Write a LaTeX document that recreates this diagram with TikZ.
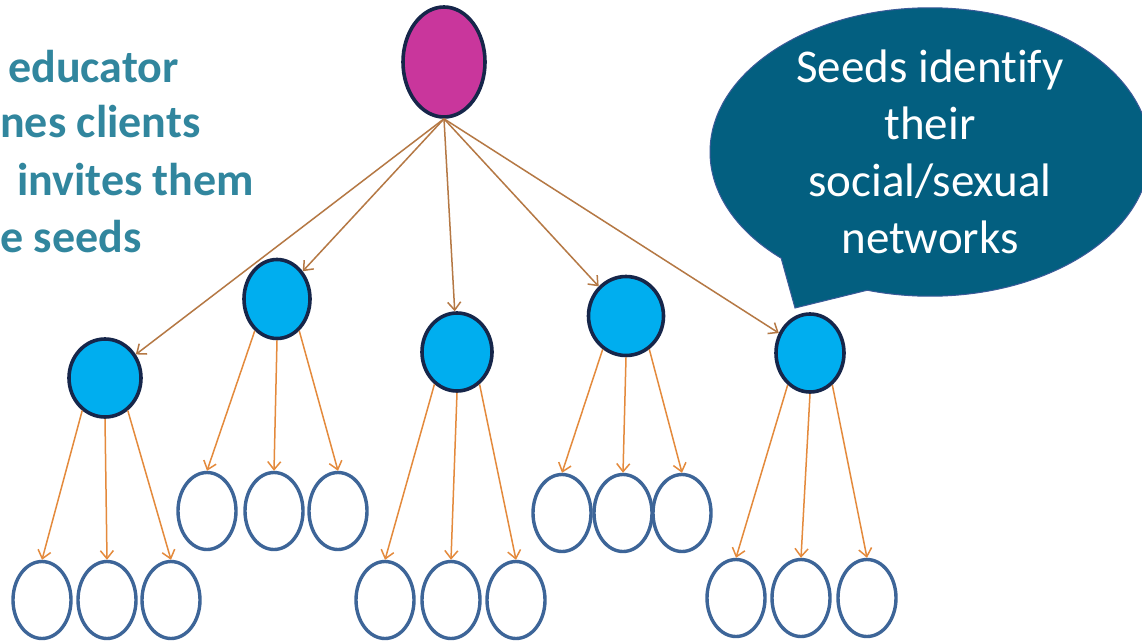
\documentclass[tikz,border=0pt]{standalone}
\usepackage{fontspec}
\setmainfont[Ligatures=NoCommon]{Carlito}
\usetikzlibrary{shapes.geometric,shapes.callouts,arrows.meta}
\definecolor{magentaTop}{HTML}{C9369C}
\definecolor{navyEdge}{HTML}{16264A}
\definecolor{seedFill}{HTML}{00AEEF}
\definecolor{leafEdge}{HTML}{3D6598}
\definecolor{arrowOrange}{HTML}{E48A3C}
\definecolor{arrowBrown}{HTML}{B57844}
\definecolor{bubbleFill}{HTML}{035F80}
\definecolor{bubbleEdge}{HTML}{3B5A98}
\definecolor{tealText}{HTML}{31869E}
\begin{document}
\begin{tikzpicture}[x=1pt,y=-1pt,
  topnode/.style={ellipse, fill=magentaTop, draw=navyEdge, line width=3.6pt, inner sep=0pt, minimum width=82pt, minimum height=110pt},
  seed/.style={ellipse, fill=seedFill, draw=navyEdge, line width=3.6pt, inner sep=0pt},
  leaf/.style={ellipse, fill=white, draw=leafEdge, line width=3.4pt, inner sep=0pt, minimum width=58pt, minimum height=77pt},
  link/.style={draw=arrowOrange, line width=1.5pt, -{Straight Barb[length=8pt,width=13pt]}},
  toplink/.style={link, draw=arrowBrown},
  lefttext/.style={anchor=base west, inner sep=0pt, text=tealText, font=\fontsize{46}{57}\selectfont\bfseries},
]
\clip (0,0) rectangle (1142,643);
\fill[white] (0,0) rectangle (1142,643);

% left text
\node[lefttext] (t1) at (8,82) {educator};
\node[lefttext] (t2) at (0,137) {nes clients};
\node[lefttext] (t3) at (17,195) {invites them};
\node[lefttext] (t4) at (0,252) {e seeds};

% speech bubble
\node[ellipse callout, fill=bubbleFill, draw=bubbleEdge, line width=1pt,
      minimum width=440pt, minimum height=280pt, inner sep=0pt,
      callout absolute pointer={(795,308)}, callout pointer arc=26,
      text=white, align=center, font=\fontsize{47}{57}\selectfont]
  (bubble) at (930,152) {Seeds identify\\their\\social/sexual\\networks};

% nodes
\node[topnode] (top) at (444,62) {};
\node[seed, minimum width=72pt, minimum height=78pt] (s1) at (105,378) {};
\node[seed, minimum width=66pt, minimum height=79pt] (s2) at (277,299) {};
\node[seed, minimum width=70pt, minimum height=78pt] (s3) at (457,352) {};
\node[seed, minimum width=75pt, minimum height=79pt] (s4) at (626,316) {};
\node[seed, minimum width=68pt, minimum height=78pt] (s5) at (810,353) {};

\node[leaf] (a1) at (42,600) {};
\node[leaf] (a2) at (107,600) {};
\node[leaf] (a3) at (171,600) {};
\node[leaf] (b1) at (207,511) {};
\node[leaf] (b2) at (274,511) {};
\node[leaf] (b3) at (338,511) {};
\node[leaf] (c1) at (385,600) {};
\node[leaf] (c2) at (451,600) {};
\node[leaf] (c3) at (516,600) {};
\node[leaf] (d1) at (562,513) {};
\node[leaf] (d2) at (623,513) {};
\node[leaf] (d3) at (682,513) {};
\node[leaf] (e1) at (736,598) {};
\node[leaf] (e2) at (801,598) {};
\node[leaf] (e3) at (867,598) {};

% connectors
\foreach \s in {s1,s2,s3,s4,s5}
  \draw[toplink] (top.south) -- (\s);
\foreach \s/\l/\m/\r in {s1/a1/a2/a3, s2/b1/b2/b3, s3/c1/c2/c3, s4/d1/d2/d3, s5/e1/e2/e3} {
  \draw[link] (\s.235) -- (\l.north);
  \draw[link] (\s.270) -- (\m.north);
  \draw[link] (\s.305) -- (\r.north);
}
\end{tikzpicture}
\end{document}
